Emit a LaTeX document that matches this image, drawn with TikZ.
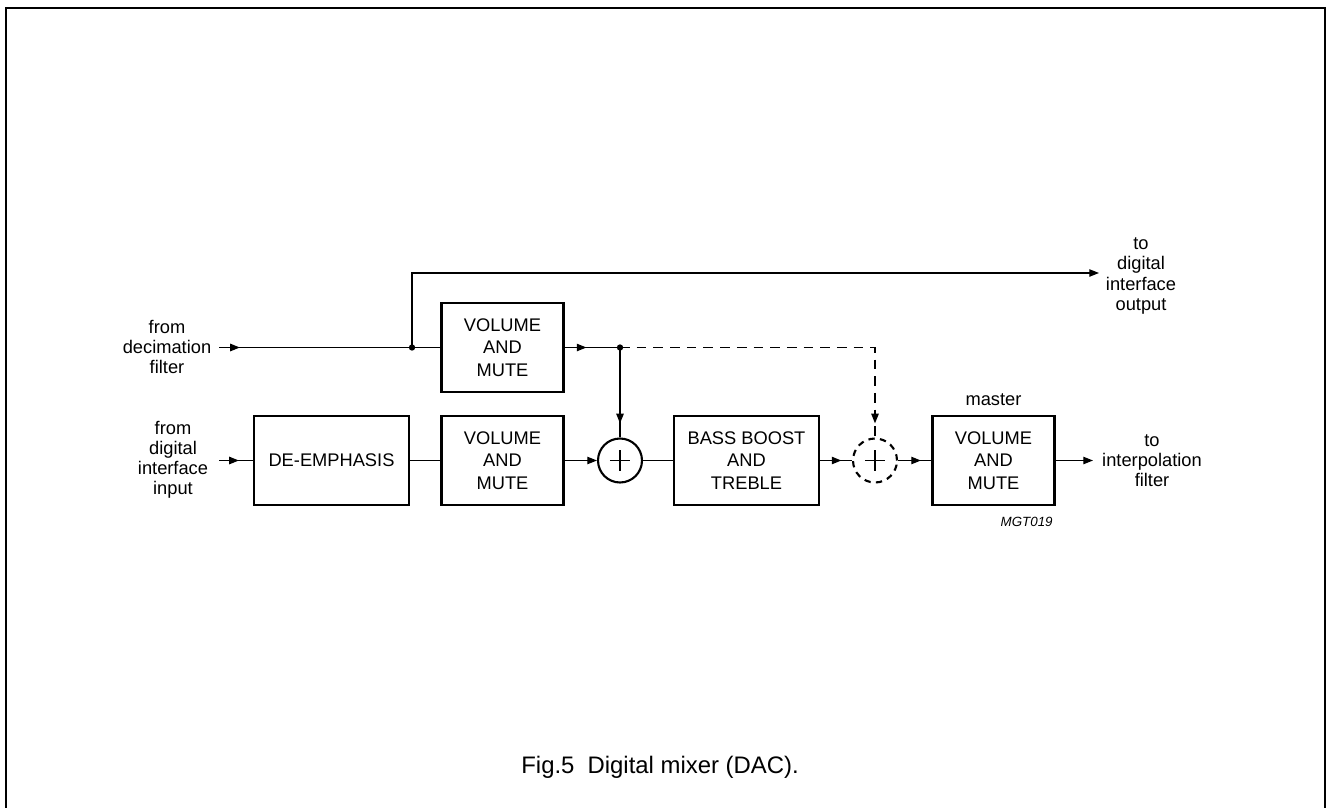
\documentclass[tikz,border=0pt]{standalone}
\usepackage{fontspec}
\setmainfont{Liberation Sans}
\usetikzlibrary{arrows.meta,decorations.markings,positioning}

\begin{document}
\begin{tikzpicture}[x=0.02cm, y=-0.02cm,
    blk/.style={draw, line width=1.2pt, minimum width=2.44cm, minimum height=1.78cm,
        inner sep=0pt, align=center, font=\fontsize{10.4}{12.9}\selectfont},
    lbl/.style={align=center, font=\fontsize{10.4}{11.4}\selectfont},
    sig/.style={line width=0.7pt},
    adder/.style={circle, draw, line width=1.2pt, minimum size=0.88cm, inner sep=0pt},
    endtip/.style={-{Triangle[length=5.5pt,width=4.2pt]}},
    tipat/.style={postaction={decorate}, decoration={markings,
        mark=at position #1 with {\arrow{Triangle[length=5.5pt,width=4.2pt]}}}}]
    \useasboundingbox (0,0) rectangle (1326,808);
    \draw[line width=1.2pt] (6,808) -- (6,8) -- (1324.9,8) -- (1324.9,808);

    \node[blk] (vol1) at (502.5,347.5) {VOLUME\\AND\\MUTE};
    \node[blk, minimum width=3.1cm] (demph) at (331.5,460.5) {DE-EMPHASIS};
    \node[blk] (vol2) at (502.5,460.5) {VOLUME\\AND\\MUTE};
    \node[adder] (add1) at (620,460.5) {};
    \node[blk, minimum width=2.9cm] (bass) at (746.5,460.5) {BASS BOOST\\AND\\TREBLE};
    \node[adder, dashed, dash pattern=on 3.6pt off 3pt] (add2) at (875,460.5) {};
    \node[blk] (vol3) at (993.5,460.5) {VOLUME\\AND\\MUTE};
    \node[lbl, above=1.5pt of vol3] (master) {master};
    \node[anchor=north east, inner sep=0pt, font=\itshape\fontsize{7.6}{9}\selectfont] (code) at (1053,517) {MGT019};

    \node[lbl] (decim) at (167,347) {from\\decimation\\filter};
    \node[lbl] (digin) at (173,460) {from\\digital\\interface\\input};
    \node[lbl] (digout) at (1141,276) {to\\digital\\interface\\output};
    \node[lbl] (interp) at (1152,461) {to\\interpolation\\filter};
    \node[anchor=base west, inner sep=0pt, font=\fontsize{13.6}{16}\selectfont] (caption) at (521,773) {Fig.5\hspace{0.55em}Digital mixer (DAC).};

    \coordinate (in1) at (219,347.5);
    \coordinate (in2) at (219,460.5);
    \coordinate (j1) at (412,347.5);
    \coordinate (j2) at (620,347.5);
    \coordinate (outtop) at (1099,273);
    \coordinate (outbot) at (1093,460.5);

    \draw[sig, tipat=11.9pt] (in1) -- (j1);
    \draw[sig] (j1) -- (vol1.west);
    \draw[sig, endtip] (j1) |- (outtop);
    \draw[sig, tipat=12.5pt] (vol1.east) -- (j2);
    \draw[sig, tipat=-8pt] (j2) -- (add1.north);
    \draw[sig, dashed, dash pattern=on 5.5pt off 4pt, tipat=-8pt] (j2) -| (add2.north);
    \draw[sig, tipat=-8pt] (in2) -- (demph.west);
    \draw[sig] (demph.east) -- (vol2.west);
    \draw[sig, endtip] (vol2.east) -- (add1.west);
    \draw[sig] (add1.east) -- (bass.west);
    \draw[sig, tipat=-6pt] (bass.east) -- (add2.west);
    \draw[sig, tipat=-6pt] (add2.east) -- (vol3.west);
    \draw[sig, endtip] (vol3.east) -- (outbot);

    \fill (j1) circle (1.8pt);
    \fill (j2) circle (1.8pt);
    \foreach \a in {add1, add2} {
        \draw[line width=0.8pt] ([xshift=-5.7pt]\a.center) -- ([xshift=5.7pt]\a.center);
        \draw[line width=0.8pt] ([yshift=-5.7pt]\a.center) -- ([yshift=5.7pt]\a.center);
    }
\end{tikzpicture}
\end{document}
